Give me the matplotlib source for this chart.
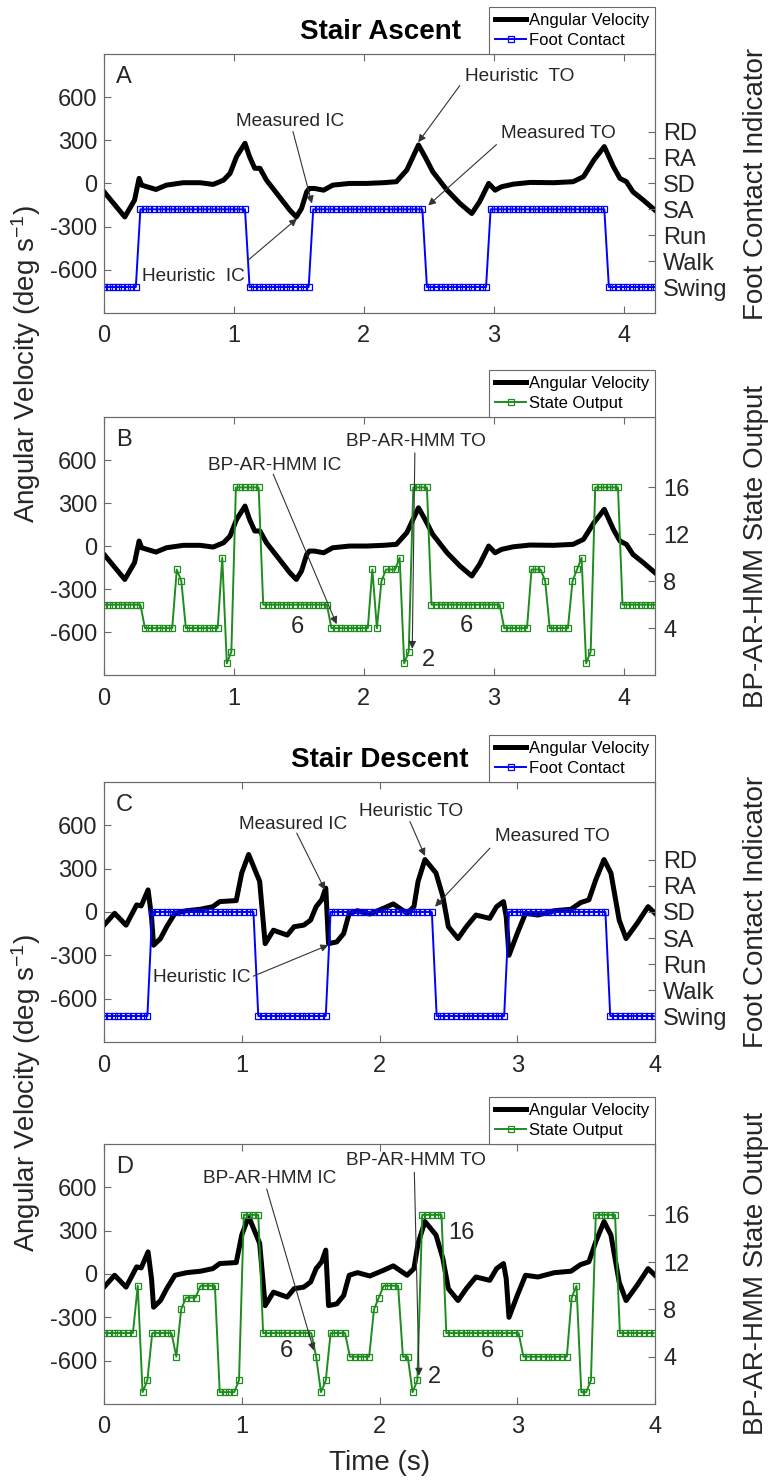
import matplotlib.pyplot as plt
import numpy as np

plt.rcParams['font.family'] = ['Liberation Sans', 'DejaVu Sans']
plt.rcParams['mathtext.fontset'] = 'custom'
plt.rcParams['mathtext.rm'] = 'Liberation Sans'
plt.rcParams['mathtext.it'] = 'Liberation Sans:italic'
plt.rcParams['axes.unicode_minus'] = False

dt = 0.035  # sample spacing of the contact / state signals (s)

# shank angular velocity, stair ascent (deg/s)
asc_t = [0, 0.16, 0.235, 0.27, 0.29, 0.40, 0.48, 0.61, 0.74, 0.84, 0.92, 0.97, 1.02, 1.085,
         1.12, 1.16, 1.20, 1.25, 1.35, 1.43, 1.48, 1.52, 1.56, 1.58, 1.62, 1.69, 1.76, 1.89,
         2.02, 2.15, 2.25, 2.33, 2.42, 2.47, 2.53, 2.64, 2.74, 2.83, 2.89, 2.96, 3.01, 3.06,
         3.15, 3.28, 3.46, 3.61, 3.69, 3.77, 3.85, 3.92, 3.97, 4.02, 4.07, 4.15, 4.24]
asc_w = [-58, -233, -116, 35, -12, -42, -12, 5, 5, -7, 23, 70, 186, 279,
         186, 105, 105, 23, -93, -186, -233, -174, -58, -35, -35, -47, -12, 0,
         0, 5, 12, 93, 267, 186, 81, -47, -140, -209, -128, 0, -47, -23,
         -5, 7, 5, 12, 47, 163, 256, 116, 35, 12, -58, -116, -186]

# shank angular velocity, stair descent (deg/s)
desc_t = [0, 0.077, 0.16, 0.237, 0.27, 0.32, 0.345, 0.36, 0.41, 0.455, 0.515, 0.60, 0.70,
          0.79, 0.84, 0.96, 1.0, 1.05, 1.13, 1.17, 1.23, 1.33, 1.38, 1.45, 1.50, 1.54, 1.58,
          1.61, 1.63, 1.69, 1.74, 1.78, 1.84, 1.93, 2.03, 2.10, 2.20, 2.25, 2.28, 2.33, 2.41,
          2.46, 2.50, 2.57, 2.63, 2.70, 2.80, 2.85, 2.90, 2.92, 2.94, 3.0, 3.06, 3.15, 3.27,
          3.39, 3.46, 3.52, 3.57, 3.63, 3.68, 3.74, 3.79, 3.87, 3.95, 4.0]
desc_w = [-91, -9, -91, 49, 42, 153, -33, -230, -184, -102, -9, 9, 19,
          37, 72, 79, 270, 398, 212, -219, -126, -160, -102, -91, -56, 37, 84,
          165, -219, -207, -149, -9, 9, -14, 26, 56, -9, 37, 212, 363, 270,
          107, -102, -184, -102, -21, -44, 37, 72, -33, -300, -149, -9, -21, 9,
          19, 65, 84, 223, 363, 270, -56, -184, -79, 37, -9]

# foot contact indicator as runs of (level, samples); levels index contact_labels
contact_labels = ['Swing', 'Walk', 'Run', 'SA', 'SD', 'RA', 'RD']
asc_contact = [(0, 8), (3, 24), (0, 14), (3, 25), (0, 14), (3, 26), (0, 11)]
desc_contact = [(0, 10), (4, 22), (0, 15), (4, 22), (0, 15), (4, 21), (0, 10)]

# BP-AR-HMM state output as runs of (state, samples)
asc_states = [(6, 9), (4, 7), (9, 1), (8, 1), (4, 8), (10, 1), (1, 1), (2, 1), (16, 6),
              (6, 15), (4, 9), (9, 1), (4, 1), (8, 1), (9, 3), (10, 1), (1, 1), (2, 1),
              (16, 4), (6, 16), (4, 6), (9, 3), (8, 1), (4, 5), (8, 1), (9, 1), (10, 1),
              (1, 1), (2, 1), (16, 6), (6, 8)]
desc_states = [(6, 7), (10, 1), (1, 1), (2, 1), (6, 5), (4, 1), (8, 1), (9, 3), (10, 4),
               (1, 4), (2, 1), (16, 4), (6, 11), (4, 1), (1, 1), (2, 1), (6, 4), (4, 5),
               (8, 1), (9, 1), (10, 4), (4, 2), (1, 1), (2, 1), (16, 5), (6, 16), (4, 10),
               (9, 1), (10, 1), (1, 2), (2, 1), (16, 5), (6, 8)]

FRAME = '#6a6a6a'
TXT = '#262626'


def expand(runs):
    vals = np.concatenate([np.full(n, v) for v, n in runs])
    return np.arange(len(vals)) * dt, vals


def panel(rect, t, w, runs, color, name, xmax, contact, letter):
    ax = fig.add_axes(rect)
    ax.plot(t, w, color='k', lw=3.6, solid_joinstyle='round', label='Angular Velocity')
    ax.set_xlim(0, xmax)
    ax.set_ylim(-900, 900)
    ax.set_xticks([0, 1, 2, 3, 4])
    ax.set_yticks([-600, -300, 0, 300, 600])
    ax.tick_params(direction='in', length=5, top=True, right=False, labelsize=17,
                   color=FRAME, labelcolor=TXT, width=0.8)
    ax.tick_params(axis='x', pad=9)
    ax.tick_params(axis='y', pad=5)

    ax2 = ax.twinx()
    ts, vs = expand(runs)
    ax2.plot(ts, vs, color=color, lw=1.4, marker='s', ms=3.8, mfc='none', mew=0.9,
             label=name)
    if contact:
        ax2.set_ylim(-1, 9)
        ax2.set_yticks(range(7))
        ax2.set_yticklabels(contact_labels)
    else:
        ax2.set_ylim(0, 22)
        ax2.set_yticks([4, 8, 12, 16])
    ax2.tick_params(direction='in', length=5, labelsize=17, pad=6,
                    color=FRAME, labelcolor=TXT, width=0.8)
    for a in (ax, ax2):
        for s in a.spines.values():
            s.set_color(FRAME)
            s.set_linewidth(0.8)

    h1, l1 = ax.get_legend_handles_labels()
    h2, l2 = ax2.get_legend_handles_labels()
    leg = ax2.legend(h1 + h2, l1 + l2, loc='lower right', bbox_to_anchor=(1, 1),
                     borderaxespad=0, fontsize=12, fancybox=False, framealpha=1,
                     edgecolor=FRAME, handlelength=1.9, handletextpad=0.15,
                     labelspacing=0.3, borderpad=0.35)
    leg.get_frame().set_linewidth(0.8)
    ax2.text(0.022, 0.91, letter, transform=ax.transAxes, fontsize=17,
             ha='left', va='center', color=TXT)
    return ax, ax2


def note(ax, ax2, text, txy, tail, head, size=13.7):
    ax2.text(txy[0], txy[1], text, transform=ax.transData, fontsize=size,
             ha='center', va='center', color=TXT)
    if tail is not None:
        ax2.annotate('', xy=head, xytext=tail, xycoords=ax.transData,
                     textcoords=ax.transData,
                     arrowprops=dict(arrowstyle='-|>', color='#333333', lw=0.8,
                                     mutation_scale=11, shrinkA=0, shrinkB=0))


fig = plt.figure(figsize=(7.71, 14.81), dpi=100)

L, W = 104 / 771, 551 / 771
axA, axA2 = panel([L, 0.7887, W, 0.1749], asc_t, asc_w, asc_contact, '#0000ff',
                  'Foot Contact', 4.24, True, 'A')
axB, axB2 = panel([L, 0.5442, W, 0.1742], asc_t, asc_w, asc_states, '#1e8c1e',
                  'State Output', 4.24, False, 'B')
axC, axC2 = panel([L, 0.2964, W, 0.1756], desc_t, desc_w, desc_contact, '#0000ff',
                  'Foot Contact', 4.0, True, 'C')
axD, axD2 = panel([L, 0.0520, W, 0.1756], desc_t, desc_w, desc_states, '#1e8c1e',
                  'State Output', 4.0, False, 'D')

# event annotations
note(axA, axA2, 'Measured IC', (1.43, 430), (1.454, 361), (1.60, -139))
note(axA, axA2, 'Heuristic  IC', (0.692, -645), (1.108, -534), (1.485, -245))
note(axA, axA2, 'Heuristic  TO', (3.20, 742), (2.738, 680), (2.418, 286))
note(axA, axA2, 'Measured TO', (3.50, 347), (3.02, 270), (2.495, -153))

note(axB, axB2, 'BP-AR-HMM IC', (1.312, 559), (1.302, 501), (1.79, -545))
note(axB, axB2, 'BP-AR-HMM TO', (2.404, 731), (2.392, 650), (2.372, -717))
note(axB, axB2, '6', (1.49, -566), None, None, 17)
note(axB, axB2, '6', (2.79, -559), None, None, 17)
note(axB, axB2, '2', (2.495, -798), None, None, 17)

note(axC, axC2, 'Measured IC', (1.372, 603), (1.399, 546), (1.604, 153))
note(axC, axC2, 'Heuristic IC', (0.711, -451), (1.084, -444), (1.628, -229))
note(axC, axC2, 'Heuristic TO', (2.229, 694), (2.221, 626), (2.33, 388))
note(axC, axC2, 'Measured TO', (3.256, 522), (2.802, 442), (2.403, 37))

note(axD, axD2, 'BP-AR-HMM IC', (1.204, 662), (1.181, 588), (1.524, -531))
note(axD, axD2, 'BP-AR-HMM TO', (2.265, 784), (2.253, 704), (2.287, -704))
note(axD, axD2, '6', (1.326, -531), None, None, 17)
note(axD, axD2, '6', (2.783, -531), None, None, 17)
note(axD, axD2, '2', (2.398, -715), None, None, 17)
note(axD, axD2, '16', (2.597, 284), None, None, 17)

fig.text(0.4929, 0.9784, 'Stair Ascent', fontsize=20, fontweight='bold',
         ha='center', va='center')
fig.text(0.4929, 0.4868, 'Stair Descent', fontsize=20, fontweight='bold',
         ha='center', va='center')

ylab = r'Angular Velocity (deg s$^{\mathregular{-1}}$)'
fig.text(0.034, 0.7542, ylab, rotation=90, fontsize=20, ha='center', va='center', color=TXT)
fig.text(0.034, 0.2620, ylab, rotation=90, fontsize=20, ha='center', va='center', color=TXT)
fig.text(0.9805, 0.8760, 'Foot Contact Indicator', rotation=90, fontsize=20,
         ha='center', va='center', color=TXT)
fig.text(0.9805, 0.6313, 'BP-AR-HMM State Output', rotation=90, fontsize=20,
         ha='center', va='center', color=TXT)
fig.text(0.9805, 0.3842, 'Foot Contact Indicator', rotation=90, fontsize=20,
         ha='center', va='center', color=TXT)
fig.text(0.9805, 0.1398, 'BP-AR-HMM State Output', rotation=90, fontsize=20,
         ha='center', va='center', color=TXT)
fig.text(0.4929, 0.0122, 'Time (s)', fontsize=20, ha='center', va='center', color=TXT)

fig.savefig('out.png', dpi=100)
